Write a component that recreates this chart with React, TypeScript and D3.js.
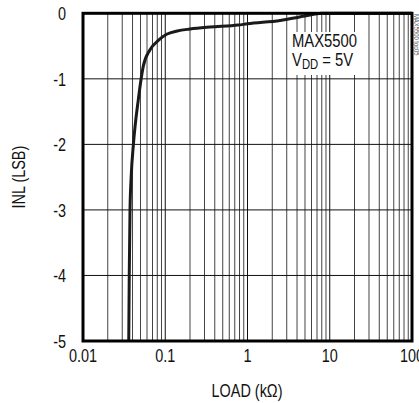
import React from "react";
import * as d3 from "d3";

const loadK = [0.036, 0.0365, 0.0373, 0.0385, 0.041, 0.047, 0.054, 0.065, 0.083, 0.104, 0.14, 0.2, 0.35, 0.77, 1.0, 2.5, 5.0, 8.0, 20, 100];
const inl = [-5, -4, -3.0, -2.5, -2.0, -1.32, -0.81, -0.56, -0.41, -0.32, -0.27, -0.24, -0.21, -0.18, -0.16, -0.11, -0.04, 0, 0, 0];
const xTicks = [0.01, 0.1, 1, 10, 100];
const xTickLabels = ["0.01", "0.1", "1", "10", "100"];
const yTicks = [0, -1, -2, -3, -4, -5];
const yTickLabels = ["0", "-1", "-2", "-3", "-4", "-5"];

const W = 419, H = 403;
const L = 83, R = 412, T = 13.3, B = 341;
const FONT = "'Liberation Sans', Arial, sans-serif";
const SX = 0.78;

function Txt({ x, y, anchor = "start", size = 18.5, rot = 0, fill = "#111", children }: any) {
  return (
    <text
      transform={`translate(${x},${y}) rotate(${rot}) scale(${SX},1)`}
      fontSize={size}
      textAnchor={anchor}
      fill={fill}
    >
      {children}
    </text>
  );
}

export default function App() {
  const x = d3.scaleLog().domain([0.01, 100]).range([L, R]);
  const y = d3.scaleLinear().domain([-5, 0]).range([B, T]);
  const minor: number[] = [];
  for (let d = -2; d < 2; d++) {
    for (let k = 2; k <= 9; k++) minor.push(k * Math.pow(10, d));
  }
  const pts = loadK.map((v, i) => [x(v), y(inl[i])] as [number, number]);
  const line = d3.line().curve(d3.curveMonotoneX)(pts) || "";
  return (
    <svg width={W} height={H} style={{ position: "absolute", left: 0, top: 0, background: "#fff" }} fontFamily={FONT}>
      <rect x={0} y={0} width={W} height={H} fill="#fff" />
      {minor.map((v, i) => (
        <line key={"m" + i} x1={x(v)} x2={x(v)} y1={T} y2={B} stroke="#444" strokeWidth={1} />
      ))}
      {xTicks.map((v, i) => (
        <line key={"M" + i} x1={x(v)} x2={x(v)} y1={T} y2={B} stroke="#111" strokeWidth={1} />
      ))}
      {yTicks.map((v, i) => (
        <line key={"h" + i} x1={L} x2={R} y1={y(v)} y2={y(v)} stroke="#111" strokeWidth={1} />
      ))}
      <rect x={289} y={32} width={68} height={43} fill="#fff" />
      <Txt x={292} y={47} size={19}>MAX5500</Txt>
      <Txt x={292} y={66} size={19}>
        V<tspan fontSize={14.5} dy={3}>DD</tspan><tspan dy={-3}> = 5V</tspan>
      </Txt>
      <path d={line} fill="none" stroke="#1a1a1a" strokeWidth={3} strokeLinejoin="round" />
      <rect x={L} y={T} width={R - L} height={B - T} fill="none" stroke="#000" strokeWidth={3} />
      {yTicks.map((v, i) => (
        <Txt key={"yl" + i} x={66} y={y(v) + 7} anchor="end">{yTickLabels[i]}</Txt>
      ))}
      {xTicks.map((v, i) => (
        <Txt key={"xl" + i} x={x(v)} y={362} anchor="middle">{xTickLabels[i]}</Txt>
      ))}
      <Txt x={247} y={397} anchor="middle">LOAD (kΩ)</Txt>
      <Txt x={25} y={(T + B) / 2} anchor="middle" rot={-90}>INL (LSB)</Txt>
      <Txt x={414} y={14} size={7.5} rot={90} fill="#555">MAX5500 toc05</Txt>
    </svg>
  );
}
